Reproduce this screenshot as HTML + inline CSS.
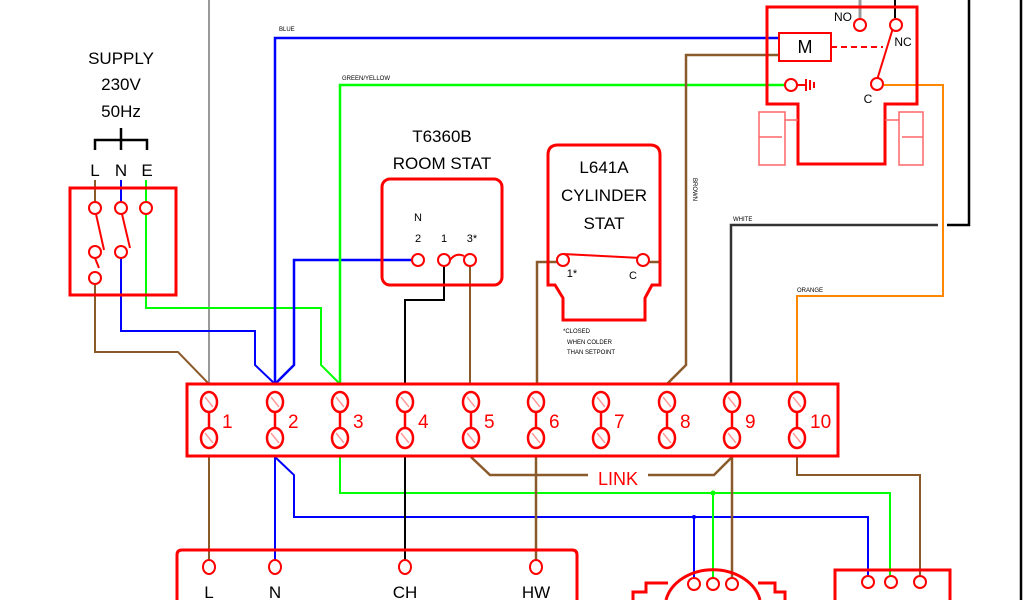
<!DOCTYPE html>
<html><head><style>
html,body{margin:0;padding:0;background:#fff;}
svg{display:block;}
text{font-family:"Liberation Sans",sans-serif;}
</style></head><body>
<svg width="1024" height="600" viewBox="0 0 1024 600" xmlns="http://www.w3.org/2000/svg">
<defs>
<g id="t"><line x1="0" y1="402" x2="0" y2="438"/><ellipse cx="0" cy="402" rx="8" ry="10"/><ellipse cx="0" cy="438" rx="8" ry="10"/><line x1="-4" y1="397" x2="4" y2="407" stroke="#f99" stroke-width="1.5"/><line x1="-4" y1="433" x2="4" y2="443" stroke="#f99" stroke-width="1.5"/></g>
</defs>
<rect width="1024" height="600" fill="#fff"/>
<g fill="none" stroke-width="2">
<line x1="209" y1="0" x2="209" y2="384" stroke="#999"/>
<line x1="860" y1="0" x2="860" y2="18" stroke="#999" stroke-width="3"/>
<line x1="895" y1="0" x2="895" y2="18" stroke="#000"/>
<polyline points="969,0 969,225 947,225" stroke="#000" stroke-width="2.5"/>
<line x1="1021" y1="0" x2="1021" y2="600" stroke="#000" stroke-width="2.5"/>
<polyline points="95,285 95,352 178,352 209,384" stroke="#8B5A2B"/>
<polyline points="121,258 121,331 255,331 255,365 275,384" stroke="#00f"/>
<polyline points="146,212 146,308 321,308 321,365 340,384" stroke="#0f0"/>
<line x1="95" y1="180" x2="95" y2="204" stroke="#8B5A2B"/>
<line x1="121" y1="180" x2="121" y2="204" stroke="#00f"/>
<line x1="146" y1="180" x2="146" y2="204" stroke="#0f0"/>
<polyline points="275,384 275,38 780,38" stroke="#00f" stroke-width="2.5"/>
<polyline points="275,384 294,365 294,260 412,260" stroke="#00f" stroke-width="2.5"/>
<polyline points="340,384 340,85 785,85" stroke="#0f0" stroke-width="2.5"/>
<polyline points="444,266 444,300 405,300 405,384" stroke="#000"/>
<line x1="470" y1="266" x2="470" y2="384" stroke="#8B5A2B"/>
<polyline points="557,262 537,262 537,384" stroke="#8B5A2B" stroke-width="2.5"/>
<line x1="648" y1="262" x2="660" y2="262" stroke="#8B5A2B" stroke-width="2.5"/>
<polyline points="779,55 686,55 686,365 667,384" stroke="#8B5A2B" stroke-width="2.5"/>
<polyline points="938,225 731,225 731,384" stroke="#333" stroke-width="2.5"/>
<polyline points="884,85 943,85 943,296 797,296 797,384" stroke="#f80" stroke-width="2"/>
<line x1="209" y1="457" x2="209" y2="561" stroke="#8B5A2B"/>
<line x1="275" y1="457" x2="275" y2="561" stroke="#00f"/>
<polyline points="275,457 294,475 294,517 868,517 868,576" stroke="#00f"/>
<line x1="694" y1="517" x2="694" y2="578" stroke="#00f"/>
<circle cx="694" cy="517" r="2" fill="#00f" stroke="none"/>
<polyline points="340,457 340,493 890,493 890,576" stroke="#0f0"/>
<line x1="713" y1="493" x2="713" y2="578" stroke="#0f0"/>
<circle cx="713" cy="493" r="2.5" fill="#0f0" stroke="none"/>
<line x1="405" y1="457" x2="405" y2="561" stroke="#000"/>
<line x1="536" y1="457" x2="536" y2="561" stroke="#8B5A2B" stroke-width="2.5"/>
<polyline points="471,457 490,475 588,475" stroke="#8B5A2B" stroke-width="2.5"/>
<polyline points="648,475 714,475 732,457" stroke="#8B5A2B" stroke-width="2.5"/>
<line x1="732" y1="457" x2="732" y2="578" stroke="#8B5A2B" stroke-width="2.5"/>
<polyline points="797,457 797,475 920,475 920,576" stroke="#8B5A2B"/>
</g>
<g fill="none" stroke="#f00" stroke-width="3">
<rect x="70" y="188" width="106" height="107"/>
<rect x="382" y="179" width="120" height="106" rx="8"/>
<path d="M548,155 Q548,145 558,145 L650,145 Q660,145 660,155 L660,285 L652,285 L645,298 L645,320 L563,320 L563,298 L555,285 L548,285 Z"/>
<rect x="187" y="384" width="651" height="72"/>
<path d="M177,600 L177,555 Q177,550 182,550 L572,550 Q577,550 577,555 L577,600"/>
<path d="M835,600 L835,570 L950,570 L950,600"/>
<path d="M633,600 L633,592 L646,592 L646,583 L668,583 M758,583 L775,583 L775,592 L785,592 L785,600"/>
<path d="M666,600 A48,38 0 0 1 760,600"/>
<path d="M767,104 L767,7 L917,7 L917,104 L885,104 L885,164 L798,164 L798,104 Z"/>
</g>
<g fill="none" stroke="#f66" stroke-width="1.5">
<rect x="759" y="112" width="26" height="53"/><line x1="759" y1="137" x2="782" y2="137"/>
<rect x="899" y="112" width="24" height="53"/><line x1="902" y1="137" x2="923" y2="137"/>
<line x1="785" y1="120" x2="798" y2="120"/><line x1="885" y1="120" x2="899" y2="120"/>
</g>
<g fill="#fff" stroke="#f00" stroke-width="2">
<rect x="779" y="33" width="52" height="28"/>
<line x1="831" y1="47" x2="883" y2="47" stroke-dasharray="6,4"/>
<line x1="877" y1="80" x2="893" y2="28"/>
<circle cx="860" cy="25" r="6"/><circle cx="896" cy="25" r="6"/><circle cx="877" cy="84" r="6"/>
<circle cx="791" cy="85" r="6"/>
<line x1="797" y1="85" x2="806" y2="85"/><line x1="806" y1="79" x2="806" y2="91"/><line x1="810" y1="80" x2="810" y2="90"/><line x1="814" y1="82" x2="814" y2="88"/>
<circle cx="95" cy="208" r="6"/><circle cx="121" cy="208" r="6"/><circle cx="146" cy="208" r="6"/>
<circle cx="95" cy="252" r="6"/><circle cx="121" cy="252" r="6"/><circle cx="95" cy="278" r="6"/>
<line x1="96" y1="214" x2="104" y2="250"/><line x1="122" y1="214" x2="130" y2="248"/><line x1="95" y1="258" x2="99" y2="268"/>
<circle cx="418" cy="260" r="6"/><circle cx="444" cy="260" r="6"/><circle cx="470" cy="260" r="6"/>
<path d="M450,260 Q456,252 464,256" fill="none"/>
<line x1="563" y1="254" x2="642" y2="258"/>
<circle cx="563" cy="260" r="6"/><circle cx="643" cy="260" r="6"/>
<ellipse cx="209" cy="567" rx="6" ry="7"/><ellipse cx="275" cy="567" rx="6" ry="7"/><ellipse cx="405" cy="567" rx="6" ry="7"/><ellipse cx="536" cy="567" rx="6" ry="7"/>
<circle cx="694" cy="584" r="6"/><circle cx="713" cy="584" r="6"/><circle cx="732" cy="584" r="6"/>
<circle cx="868" cy="582" r="6"/><circle cx="891" cy="582" r="6"/><circle cx="920" cy="582" r="6"/>
</g>
<g stroke="#f00" stroke-width="2.5" fill="#fff">
<use href="#t" x="209"/><use href="#t" x="275"/><use href="#t" x="340"/><use href="#t" x="405"/><use href="#t" x="471"/><use href="#t" x="536"/><use href="#t" x="601"/><use href="#t" x="667"/><use href="#t" x="732"/><use href="#t" x="797"/>
</g>
<g fill="#f00" font-size="19">
<text x="222" y="428">1</text><text x="288" y="428">2</text><text x="353" y="428">3</text><text x="418" y="428">4</text><text x="484" y="428">5</text><text x="549" y="428">6</text><text x="614" y="428">7</text><text x="680" y="428">8</text><text x="745" y="428">9</text><text x="810" y="428">10</text>
<text x="618" y="485" text-anchor="middle" font-size="18">LINK</text>
</g>
<g fill="#000" font-size="17" text-anchor="middle">
<text x="121" y="64">SUPPLY</text><text x="121" y="90">230V</text><text x="121" y="117">50Hz</text>
<text x="95" y="176">L</text><text x="121" y="176">N</text><text x="147" y="176">E</text>
<text x="442" y="142">T6360B</text><text x="442" y="169">ROOM STAT</text>
<text x="604" y="173">L641A</text><text x="604" y="201">CYLINDER</text><text x="604" y="229">STAT</text>
<text x="209" y="598">L</text><text x="275" y="598">N</text><text x="405" y="598">CH</text><text x="536" y="598">HW</text>
<text x="805" y="53" font-size="18">M</text>
</g>
<g fill="#000" font-size="11" text-anchor="middle">
<text x="418" y="221">N</text><text x="418" y="242">2</text><text x="444" y="242">1</text><text x="472" y="242">3*</text>
<text x="572" y="277">1*</text><text x="633" y="279">C</text>
<text x="843" y="21" font-size="12">NO</text><text x="903" y="46" font-size="12">NC</text><text x="868" y="103" font-size="12">C</text>
</g>
<g fill="#000" font-size="6">
<text x="279" y="31">BLUE</text><text x="342" y="80">GREEN/YELLOW</text>
<text x="733" y="221">WHITE</text><text x="797" y="292">ORANGE</text>
<text x="563" y="333">*CLOSED</text><text x="567" y="344">WHEN COLDER</text><text x="567" y="354">THAN SETPOINT</text>
<text transform="translate(693,178) rotate(90)">BROWN</text>
</g>
<g stroke="#000" stroke-width="2.5" fill="none">
<polyline points="95,150 95,140 147,140 147,150"/><line x1="121" y1="128" x2="121" y2="150"/>
</g>
</svg>
</body></html>
